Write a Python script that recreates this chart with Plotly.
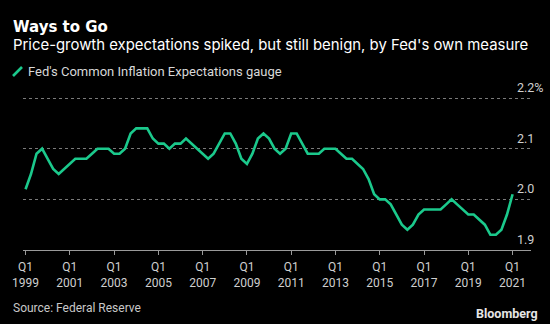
import pandas as pd
import plotly.graph_objects as go

# Fed Common Inflation Expectations gauge, quarterly from 1999 Q1 to 2021 Q1 (percent)
cie_values = [
    2.02, 2.05, 2.09, 2.10, 2.08, 2.06, 2.05, 2.06,   # 1999-2000
    2.07, 2.08, 2.08, 2.08, 2.09, 2.10, 2.10, 2.10,   # 2001-2002
    2.09, 2.09, 2.10, 2.13, 2.14, 2.14, 2.14, 2.12,   # 2003-2004
    2.11, 2.11, 2.10, 2.11, 2.11, 2.12, 2.11, 2.10,   # 2005-2006
    2.09, 2.08, 2.09, 2.11, 2.13, 2.13, 2.11, 2.08,   # 2007-2008
    2.07, 2.09, 2.12, 2.13, 2.12, 2.10, 2.09, 2.10,   # 2009-2010
    2.13, 2.13, 2.11, 2.09, 2.09, 2.09, 2.10, 2.10,   # 2011-2012
    2.10, 2.09, 2.08, 2.08, 2.07, 2.06, 2.04, 2.01,   # 2013-2014
    2.00, 2.00, 1.99, 1.97, 1.95, 1.94, 1.95, 1.97,   # 2015-2016
    1.98, 1.98, 1.98, 1.98, 1.99, 2.00, 1.99, 1.98,   # 2017-2018
    1.97, 1.97, 1.96, 1.95, 1.93, 1.93, 1.94, 1.97,   # 2019-2020
    2.01,                                             # 2021
]
start_quarter = "1999-01-01"
tick_years = [1999, 2001, 2003, 2005, 2007, 2009, 2011, 2013, 2015, 2017, 2019, 2021]
y_ticks = [1.9, 2.0, 2.1, 2.2]
y_tick_labels = ["1.9", "2.0", "2.1", "2.2%"]

series_name = "Fed's Common Inflation Expectations gauge"
title = "Ways to Go"
subtitle = "Price-growth expectations spiked, but still benign, by Fed's own measure"
source = "Source: Federal Reserve"

quarters = pd.date_range(start=start_quarter, periods=len(cie_values), freq="QS")

GREEN = "#1bc98c"
FONT = "Roboto"
HEAD_FONT = "Inter"
TITLE_FONT = "DejaVu Sans"

fig = go.Figure()
fig.add_trace(go.Scatter(
    x=quarters, y=cie_values, mode="lines",
    line=dict(color=GREEN, width=2.6),
    name=series_name, showlegend=False, hoverinfo="skip",
))

tick_vals = [pd.Timestamp(f"{y}-01-01") for y in tick_years]
tick_text = [f"Q1<br>{y}" for y in tick_years]

W, H = 550, 324
ml, mr, mt, mb = 23, 19, 97, 74
pw, ph = W - ml - mr, H - mt - mb

fig.update_layout(
    width=W, height=H,
    paper_bgcolor="black", plot_bgcolor="black",
    margin=dict(l=ml, r=mr, t=mt, b=mb),
    font=dict(family=FONT, color="#d0d0d0", size=12),
    xaxis=dict(
        range=[pd.Timestamp("1998-11-20"), pd.Timestamp("2021-11-01")],
        tickvals=tick_vals, ticktext=tick_text,
        showgrid=False, zeroline=False,
        showline=True, linecolor="#9a9a9a", linewidth=1,
        ticks="outside", ticklen=4, tickcolor="#9a9a9a",
        ticklabelstandoff=2,
        tickfont=dict(family=FONT, size=12, color="#cfcfcf"),
    ),
    yaxis=dict(
        range=[1.9, 2.202], tickvals=y_ticks, showticklabels=False,
        showgrid=True, gridcolor="#7a7a7a", griddash="dot", gridwidth=1,
        zeroline=False, showline=False, ticks="",
    ),
)

# y-axis labels sit just above their gridlines on the right
for v, lab in zip(y_ticks, y_tick_labels):
    fig.add_annotation(
        x=(516 - ml) / pw, y=v, xref="paper", yref="y", text=lab, showarrow=False,
        xanchor="left", yanchor="bottom", yshift=2, borderpad=0,
        font=dict(family=FONT, size=12.5, color="#cfcfcf"),
    )


def header_text(px, py, text, size, color, anchor="left", family=FONT):
    """Place a text at pixel position (px, py) measured from the top-left corner."""
    fig.add_annotation(
        x=(px - ml) / pw, y=(H - mb - py) / ph, xref="paper", yref="paper",
        text=text, showarrow=False, xanchor=anchor, yanchor="middle", borderpad=0,
        font=dict(family=family, size=size, color=color),
    )


header_text(12, 26.5, f"<b>{title}</b>", 15, "white", family=TITLE_FONT)
header_text(12, 45, subtitle, 14.9, "white", family=HEAD_FONT)
header_text(27, 71.5, series_name, 13, "#d8d8d8")
header_text(12, 307.5, source, 12, "#c8c8c8")
header_text(539, 313, "<b>Bloomberg</b>", 12.5, "#e6e6e6", anchor="right")

# legend swatch: short slanted stroke
fig.add_shape(type="line", xref="paper", yref="paper",
              x0=(13 - ml) / pw, y0=(H - mb - 76) / ph,
              x1=(22 - ml) / pw, y1=(H - mb - 67) / ph,
              line=dict(color=GREEN, width=2.6))

fig.write_html("out.html")
